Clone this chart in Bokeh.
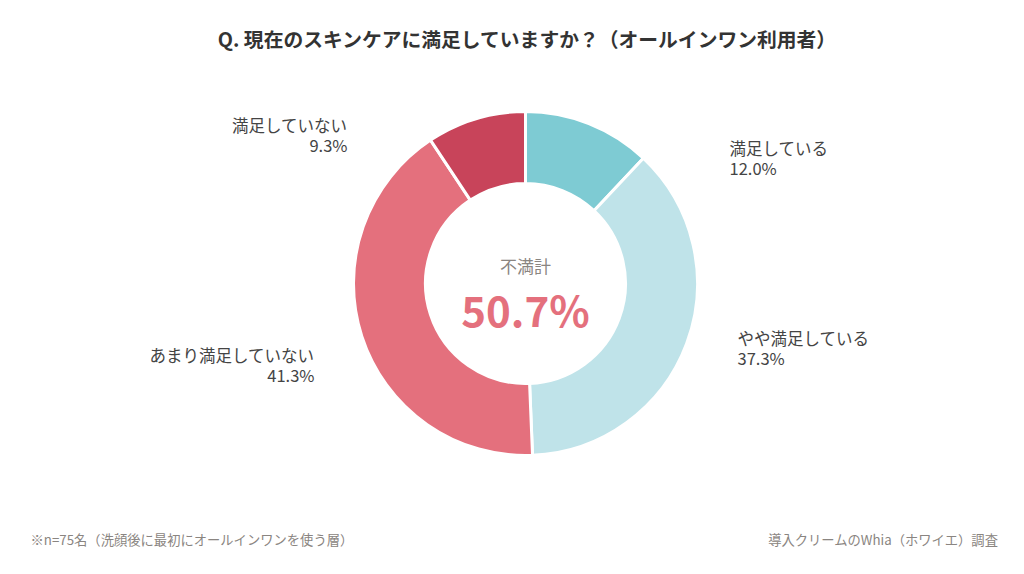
import numpy as np
from bokeh.plotting import figure
from bokeh.models import Range1d, ColumnDataSource
from bokeh.core.properties import value
from bokeh.embed import file_html
from bokeh.resources import INLINE

# ---- data ----
categories = ["満足している", "やや満足している", "あまり満足していない", "満足していない"]
percents = [12.0, 37.3, 41.3, 9.3]
colors = ["#7ECBD3", "#BFE3E9", "#E4707D", "#C8445A"]
title_text = "Q. 現在のスキンケアに満足していますか？（オールインワン利用者）"
center_label = "不満計"
center_value = "50.7%"
note_left = "※n=75名（洗顔後に最初にオールインワンを使う層）"
note_right = "導入クリームのWhia（ホワイエ）調査"

# ---- layout (screen coordinates of the page) ----
cx, cy = 525, 283
outer_r, inner_r = 172, 100
label_pos = [(729, 147, "left"), (737, 337, "left"), (314, 354, "right"), (347, 124, "right")]
FONT = "Noto Sans CJK JP"

total = sum(percents)
fr = np.array(percents) / total
ends = np.cumsum(fr)
starts = ends - fr
start_angle = np.pi / 2 - 2 * np.pi * starts
end_angle = np.pi / 2 - 2 * np.pi * ends

p = figure(width=1008, height=558, output_backend="svg", toolbar_location=None,
           x_range=Range1d(0, 1008), y_range=Range1d(558, 0),
           min_border=0, outline_line_color=None)
p.axis.visible = False
p.grid.visible = False
p.background_fill_color = "white"
p.border_fill_color = "white"

src = ColumnDataSource(dict(start=start_angle, end=end_angle, color=colors))
p.annular_wedge(x=cx, y=cy, inner_radius=inner_r, outer_radius=outer_r,
                inner_radius_units="screen", outer_radius_units="screen",
                start_angle="start", end_angle="end", direction="clock",
                fill_color="color", line_color="white", line_width=3, source=src)

# title
p.text(x=[527], y=[38], text=[title_text], text_font=value(FONT), text_font_style="bold",
       text_font_size="19.8px", text_color="#333333", text_align="center", text_baseline="middle")

# center texts
p.text(x=[cx], y=[265], text=[center_label], text_font=value(FONT), text_font_size="17px",
       text_color="#8a8581", text_align="center", text_baseline="middle")
p.text(x=[cx], y=[308], text=[center_value], text_font=value(FONT), text_font_style="bold",
       text_font_size="42px", text_color="#E4707D", text_align="center", text_baseline="middle")

# labels
for (lx, ly, al), cat, pc in zip(label_pos, categories, percents):
    p.text(x=[lx], y=[ly], text=[cat], text_font=value(FONT), text_font_size="16.5px",
           text_color="#444444", text_align=al, text_baseline="middle")
    p.text(x=[lx], y=[ly + 20], text=[f"{pc:.1f}%"], text_font=value(FONT), text_font_size="16.5px",
           text_color="#444444", text_align=al, text_baseline="middle")

# footer
p.text(x=[30], y=[539], text=[note_left], text_font=value(FONT), text_font_size="13.3px",
       text_color="#8a8581", text_align="left", text_baseline="middle")
p.text(x=[998], y=[539], text=[note_right], text_font=value(FONT), text_font_size="13.3px",
       text_color="#8a8581", text_align="right", text_baseline="middle")

open("out.html", "w").write(file_html(p, INLINE))
